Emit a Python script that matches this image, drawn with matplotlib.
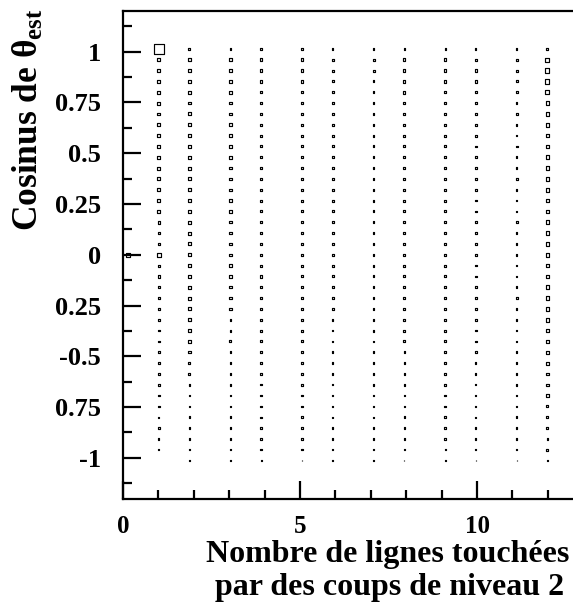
"""Box plot of cos(theta_est) versus number of hit lines (level-2 hits)."""

import matplotlib

matplotlib.use("Agg")

import matplotlib.pyplot as plt
import numpy as np
from matplotlib.collections import PatchCollection
from matplotlib.patches import Rectangle
from matplotlib.ticker import FixedLocator, MultipleLocator

plt.rcParams["font.family"] = ["Liberation Serif", "DejaVu Serif"]
plt.rcParams["font.weight"] = "bold"
plt.rcParams["mathtext.fontset"] = "custom"
plt.rcParams["mathtext.rm"] = "Liberation Serif:bold"
plt.rcParams["mathtext.bf"] = "Liberation Serif:bold"
plt.rcParams["mathtext.it"] = "Liberation Serif:bold"

# Histogram binning (45 x 45 bins).
X_EDGES = np.linspace(0.0, 13.0, 46)
Y_EDGES = np.linspace(-1.2, 1.2, 46)

# Number of lines hit by level-2 hits (x values).
n_lines = [0, 1, 2, 3, 4, 5, 6, 7, 8, 9, 10, 11, 12]

# Cell contents, one list per x value, from cos = +1 (top row) down to cos = -1.
count_0 = [0, 0, 0, 0, 0, 0, 0, 0, 0, 0, 0, 0, 0, 0, 0, 0, 0, 0, 0, 35,
           0, 0, 0, 0, 0, 0, 0, 0, 0, 0, 0, 0, 0, 0, 0, 0, 0, 0, 0]
count_1 = [100, 30, 27, 27, 28, 27, 26, 27, 28, 27, 27, 27, 28, 27, 27, 26, 24, 22, 22, 40,
           20, 20, 21, 20, 20, 19, 16, 16, 16, 15, 16, 14, 14, 14, 13, 14, 12, 6, 0]
count_2 = [20, 27, 28, 27, 27, 26, 28, 27, 28, 27, 28, 27, 28, 27, 28, 30, 28, 27, 28, 27,
           27, 28, 27, 28, 27, 28, 27, 24, 21, 20, 20, 19, 15, 15, 14, 14, 14, 13, 10]
count_3 = [14, 24, 24, 22, 24, 24, 24, 24, 22, 24, 24, 24, 24, 23, 24, 22, 22, 22, 23, 22,
           22, 22, 22, 22, 22, 17, 17, 18, 17, 17, 17, 16, 14, 14, 14, 13, 14, 13, 5]
count_4 = [14, 24, 22, 20, 20, 20, 19, 20, 20, 19, 20, 20, 19, 20, 20, 19, 20, 19, 20, 20,
           19, 20, 19, 20, 20, 19, 20, 19, 20, 19, 18, 13, 13, 14, 13, 13, 13, 12, 10]
count_5 = [13, 24, 24, 22, 19, 22, 22, 22, 18, 18, 22, 22, 19, 19, 19, 19, 19, 19, 19, 19,
           19, 19, 19, 19, 19, 18, 18, 18, 14, 14, 14, 14, 14, 14, 14, 13, 13, 13, 4]
count_6 = [12, 20, 20, 18, 17, 18, 18, 19, 18, 17, 18, 18, 18, 17, 18, 18, 17, 18, 18, 18,
           17, 18, 18, 17, 18, 15, 15, 14, 15, 15, 14, 11, 11, 12, 11, 11, 11, 11, 10]
count_7 = [12, 20, 20, 18, 18, 18, 18, 18, 18, 18, 18, 18, 17, 18, 18, 18, 18, 18, 18, 18,
           17, 17, 18, 18, 18, 17, 18, 14, 14, 14, 13, 14, 13, 13, 13, 12, 13, 12, 10]
count_8 = [12, 24, 24, 20, 24, 22, 22, 18, 18, 18, 18, 18, 18, 18, 18, 18, 18, 18, 18, 18,
           18, 17, 18, 18, 17, 18, 17, 18, 14, 14, 14, 14, 14, 14, 14, 14, 13, 13, 5]
count_9 = [12, 24, 24, 20, 22, 22, 22, 18, 18, 18, 20, 18, 18, 18, 18, 18, 18, 18, 18, 18,
           18, 18, 18, 18, 18, 18, 18, 18, 14, 14, 14, 14, 14, 14, 14, 14, 13, 12, 10]
count_10 = [12, 22, 22, 22, 18, 18, 18, 18, 18, 16, 16, 16, 16, 16, 16, 15, 16, 16, 16, 16,
            16, 16, 16, 16, 16, 16, 16, 16, 16, 12, 12, 12, 12, 12, 12, 12, 12, 12, 5]
count_11 = [12, 20, 20, 18, 16, 15, 16, 15, 15, 16, 15, 15, 16, 15, 15, 15, 16, 15, 15, 15,
            15, 15, 15, 16, 15, 15, 15, 15, 15, 15, 15, 15, 14, 15, 14, 13, 12, 13, 4]
count_12 = [18, 40, 40, 40, 40, 34, 33, 33, 33, 34, 33, 33, 33, 33, 33, 33, 33, 33, 33, 33,
            33, 33, 33, 33, 34, 33, 28, 28, 27, 28, 22, 22, 22, 18, 18, 18, 17, 18, 12]

columns = [count_0, count_1, count_2, count_3, count_4, count_5, count_6,
           count_7, count_8, count_9, count_10, count_11, count_12]

y_ticks = [1.0, 0.75, 0.5, 0.25, 0.0, -0.25, -0.5, -0.75, -1.0]
y_tick_labels = ["1", "0.75", "0.5", "0.25", "0", "0.25", "-0.5", "0.75", "-1"]


def main() -> None:
    W, H = 573, 610
    fig = plt.figure(figsize=(W / 100, H / 100), dpi=100)
    ax = fig.add_axes([123 / W, 1 - 498.5 / H, 460.2 / W, 487.5 / H])

    x_centres = 0.5 * (X_EDGES[1:] + X_EDGES[:-1])
    y_centres = 0.5 * (Y_EDGES[1:] + Y_EDGES[:-1])
    row_cos = y_centres[41:2:-1]  # top row (cos ~ +1) to bottom row (cos ~ -1)
    xw = X_EDGES[1] - X_EDGES[0]
    yh = Y_EDGES[1] - Y_EDGES[0]
    cmax = max(max(col) for col in columns)

    rects = []
    for k, col in zip(n_lines, columns):
        ix = np.digitize(k, X_EDGES) - 1
        xc = x_centres[ix]
        for yc, c in zip(row_cos, col):
            if c <= 0:
                continue
            f = c / cmax
            rects.append(Rectangle((xc - 0.5 * f * xw, yc - 0.5 * f * yh), f * xw, f * yh))
    ax.add_collection(PatchCollection(rects, facecolor="none", edgecolor="black", linewidth=0.85))

    ax.set_xlim(0, 13)
    ax.set_ylim(-1.2, 1.2)

    for side in ("left", "bottom", "top"):
        ax.spines[side].set_linewidth(1.6)
    ax.spines["right"].set_visible(False)

    ax.xaxis.set_major_locator(MultipleLocator(5))
    ax.xaxis.set_minor_locator(MultipleLocator(1))
    ax.yaxis.set_major_locator(FixedLocator(y_ticks))
    ax.yaxis.set_minor_locator(MultipleLocator(0.125))
    ax.set_yticklabels(y_tick_labels)

    ax.tick_params(which="both", direction="in", top=False, right=False, width=1.6)
    ax.tick_params(which="major", length=13, labelsize=19)
    ax.tick_params(which="minor", length=6.5)
    ax.tick_params(axis="x", pad=12, labelsize=18)
    ax.tick_params(axis="y", pad=16)

    fig.text(388 / W, 1 - 562 / H, "Nombre de lignes touchées", ha="center",
             va="baseline", fontsize=23, fontweight="bold")
    fig.text(390 / W, 1 - 595 / H, "par des coups de niveau 2", ha="center",
             va="baseline", fontsize=23, fontweight="bold")
    fig.text(38 / W, 1 - 120 / H, r"Cosinus de $\mathbf{\theta}_{\mathbf{est}}$",
             rotation=90, rotation_mode="anchor", ha="center", va="baseline",
             fontsize=25.5, fontweight="bold")

    fig.savefig("out.png", dpi=100)
    plt.close(fig)


if __name__ == "__main__":
    main()
